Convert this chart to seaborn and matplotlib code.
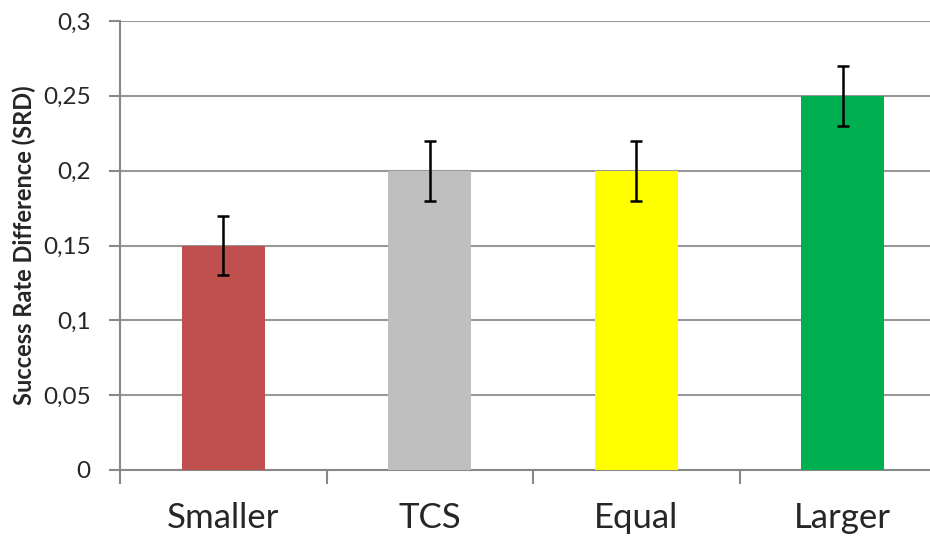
import pandas as pd
import seaborn as sns
import matplotlib.pyplot as plt
from matplotlib.ticker import FuncFormatter, FixedLocator

# donnees
categories = ["Smaller", "TCS", "Equal", "Larger"]
srd = [0.15, 0.20, 0.20, 0.25]
erreurs = [0.02, 0.02, 0.02, 0.02]
couleurs = ["#C0504D", "#BFBFBF", "#FFFF00", "#00B050"]

data = pd.DataFrame({"cat": categories, "srd": srd})

sns.set_style("white")
plt.rcParams["font.family"] = ["Lato", "DejaVu Sans"]

fig = plt.figure(figsize=(9.3, 5.36), dpi=100)
ax = fig.add_axes([120 / 930, 66 / 536, 826 / 930, 449 / 536])

sns.barplot(x="cat", y="srd", hue="cat", data=data, palette=couleurs,
            width=0.4, legend=False, errorbar=None, saturation=1,
            linewidth=0, ax=ax, zorder=3)
ax.errorbar(x=list(range(len(categories))), y=srd, yerr=erreurs, fmt="none",
            ecolor="black", elinewidth=1.8, capsize=4.3, capthick=1.8, zorder=4)

ax.set_xlim(-0.5, 3.5)
ax.set_ylim(0, 0.3)
ax.set_yticks([0, 0.05, 0.1, 0.15, 0.2, 0.25, 0.3])
ax.yaxis.set_major_formatter(FuncFormatter(
    lambda v, p: "0" if v == 0 else f"{v:.2f}".rstrip("0").replace(".", ",")))
ax.yaxis.grid(True, color="#989898", linewidth=1.5, zorder=0)
ax.set_axisbelow(True)

ax.xaxis.set_minor_locator(FixedLocator([-0.5, 0.5, 1.5, 2.5, 3.5]))
ax.tick_params(axis="x", which="major", length=0, labelsize=25, pad=23)
ax.tick_params(axis="x", which="minor", length=10, width=1.5, color="#888888",
               direction="out", bottom=True)
ax.tick_params(axis="y", length=8, width=1.5, color="#888888", direction="out",
               labelsize=17.5, pad=13, left=True)

for s in ["top", "right"]:
    ax.spines[s].set_visible(False)
for s in ["left", "bottom"]:
    ax.spines[s].set_color("#888888")
    ax.spines[s].set_linewidth(1.5)

ax.set_xlabel("")
ax.set_ylabel("Success Rate Difference (SRD)", fontsize=17, fontweight="bold",
              labelpad=5)

fig.savefig("out.png", dpi=100)
